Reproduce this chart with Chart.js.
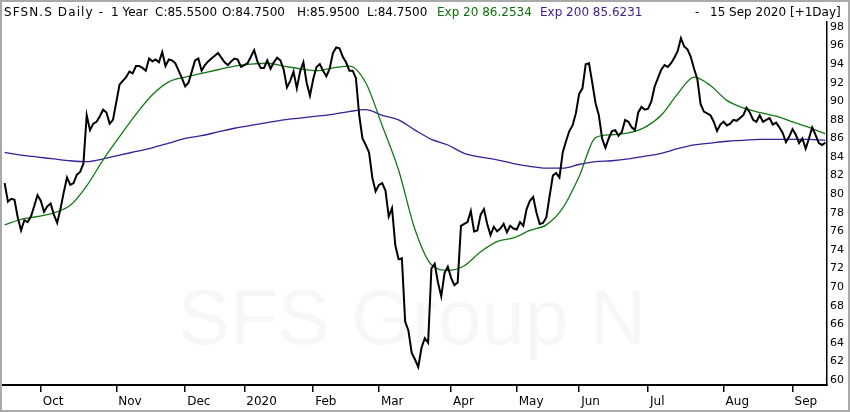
<!DOCTYPE html>
<html>
<head>
<meta charset="utf-8">
<script src="https://cdn.jsdelivr.net/npm/chart.js@4/dist/chart.umd.min.js"></script>
<style>
    html, body { margin: 0; padding: 0; background: #ffffff; }
    #wrap { position: relative; width: 850px; height: 412px; overflow: hidden; }
    #frame { position: absolute; left: 0; top: 0; width: 846px; height: 408px; border: 2px solid #a9a9a9; pointer-events: none; }
    .hd { position: absolute; top: 5px; font: 12px "DejaVu Sans", sans-serif; white-space: pre; color: #000; }
    .g { color: #0d6e0d; }
    .p { color: #3a1f8c; }
</style>
</head>
<body>
<div id="wrap">
    <canvas id="priceChart" width="850" height="412"></canvas>
    <span class="hd" style="left:4px; letter-spacing:1.1px">SFSN.S Daily -</span>
    <span class="hd" style="left:111px">1 Year</span>
    <span class="hd" style="left:155px">C:85.5500</span>
    <span class="hd" style="left:222px">O:84.7500</span>
    <span class="hd" style="left:297px">H:85.9500</span>
    <span class="hd" style="left:367px">L:84.7500</span>
    <span class="hd g" style="left:437px">Exp 20 86.2534</span>
    <span class="hd p" style="left:540px">Exp 200 85.6231</span>
    <span class="hd" style="left:695px">-</span>
    <span class="hd" style="left:710px">15 Sep 2020</span>
    <span class="hd" style="left:790px">[+1Day]</span>
    <div id="frame"></div>
</div>
<script>
// daily closes, 16 Sep 2019 .. 15 Sep 2020
const closes = [
    81.2, 79.2, 79.5, 79.4, 77.5, 76.1, 77.2, 77.0, 77.6, 78.7,
    79.9, 79.3, 78.1, 78.7, 79.0, 77.8, 76.9, 78.4, 80.2, 81.8,
    81.0, 81.2, 82.1, 82.4, 83.3, 88.5, 86.9, 87.6, 87.8, 88.4,
    89.1, 88.8, 87.6, 88.0, 89.9, 91.8, 92.2, 92.6, 93.2, 93.0,
    93.8, 93.8, 93.6, 93.3, 94.6, 94.3, 94.5, 94.2, 95.3, 93.8,
    94.5, 94.4, 94.1, 93.3, 92.5, 91.6, 92.0, 93.2, 94.4, 94.6,
    93.3, 93.9, 94.3, 94.6, 94.9, 95.2, 94.7, 94.2, 93.9, 94.3,
    94.6, 94.5, 93.7, 93.9, 94.1, 94.8, 95.5, 94.3, 93.6, 93.6,
    94.4, 93.5, 94.2, 94.7, 94.4, 93.4, 91.5, 92.2, 93.2, 91.4,
    93.2, 94.2, 92.0, 90.6, 92.4, 93.7, 94.0, 93.3, 92.7, 93.5,
    95.2, 95.8, 95.7, 94.8, 94.2, 93.3, 93.3, 92.5, 88.5, 86.0,
    85.3, 84.5, 81.8, 80.3, 81.0, 81.2, 80.4, 77.6, 78.5, 74.5,
    73.0, 73.1, 66.3, 65.3, 62.9, 62.2, 61.4, 63.5, 64.5, 64.0,
    72.0, 72.5, 70.5, 69.0, 71.5, 72.2, 71.0, 70.2, 70.5, 76.6,
    76.8, 77.0, 78.2, 76.0, 76.1, 77.8, 78.4, 76.8, 75.6, 76.5,
    76.0, 76.3, 76.8, 75.9, 76.6, 76.3, 76.2, 77.0, 76.6, 78.4,
    79.3, 79.7, 78.0, 76.8, 76.9, 77.5, 79.8, 82.0, 82.3, 81.8,
    84.5, 85.7, 86.8, 87.4, 88.7, 90.8, 91.4, 94.0, 94.1, 92.0,
    89.8, 88.5, 86.0, 85.0, 86.0, 86.8, 86.9, 86.3, 86.7, 88.0,
    87.8, 87.2, 86.9, 88.8, 89.4, 89.1, 89.2, 90.0, 91.6, 92.5,
    93.4, 93.9, 93.7, 94.1, 94.7, 95.4, 96.8, 95.9, 95.6, 94.8,
    93.5, 92.4, 89.7, 88.9, 88.7, 88.5, 87.8, 86.8, 87.5, 87.8,
    87.4, 87.6, 88.0, 87.9, 88.2, 88.5, 89.3, 88.8, 88.0, 87.8,
    88.5, 87.8, 88.0, 88.2, 87.5, 87.7, 87.2, 86.6, 85.6, 86.2,
    87.0, 86.4, 85.5, 86.0, 84.9, 86.0, 87.2, 86.4, 85.5, 85.3,
    85.55
];

// moving averages, read every 5th trading day
const emaStep = 5;
const ema20 = [
    76.7, 77.3, 77.6, 78.0, 78.8, 80.9, 83.7, 86.2, 88.6, 90.7,
    92.1, 92.6, 93.0, 93.4, 93.8, 94.0, 94.1, 93.8, 93.5, 93.3,
    93.6, 93.8, 92.0, 87.4, 82.6, 76.2, 72.4, 71.8, 72.3, 73.8,
    74.9, 75.3, 76.1, 76.7, 78.5, 81.9, 86.1, 86.4, 86.6, 87.2,
    88.5, 90.8, 92.6, 91.7, 90.1, 89.3, 88.8, 88.4, 87.8, 87.2,
    86.5
];
const ema200 = [
    84.5, 84.2, 84.0, 83.8, 83.6, 83.5, 83.8, 84.2, 84.6, 85.0,
    85.5, 86.0, 86.3, 86.7, 87.1, 87.4, 87.7, 88.0, 88.2, 88.4,
    88.6, 88.9, 89.1, 88.5, 88.0, 86.9, 85.9, 85.3, 84.4, 84.0,
    83.7, 83.3, 83.0, 82.8, 82.8, 83.2, 83.5, 83.6, 83.8, 84.1,
    84.4, 84.9, 85.3, 85.5, 85.7, 85.8, 85.9, 85.9, 85.9, 85.9,
    85.8
];

// first trading day of each month (index into closes)
const monthStarts = [11, 34, 55, 73, 94, 114, 136, 156, 175, 196, 219, 240];
const monthLabels = ['Oct', 'Nov', 'Dec', '2020', 'Feb', 'Mar', 'Apr', 'May', 'Jun', 'Jul', 'Aug', 'Sep'];
const priceTicks = [60, 62, 64, 66, 68, 70, 72, 74, 76, 78, 80, 82, 84, 86, 88, 90, 92, 94, 96, 98];

// faint name behind the lines
const watermark = {
    id: 'watermark',
    beforeDatasetsDraw(chart) {
        const ctx = chart.ctx;
        ctx.save();
        ctx.font = '78px "Liberation Sans", sans-serif';
        ctx.fillStyle = '#f7f7f7';
        ctx.textAlign = 'center';
        ctx.textBaseline = 'alphabetic';
        ctx.fillText('SFS Group N', 412, 344);
        ctx.restore();
    }
};

document.addEventListener("DOMContentLoaded", function () {
    const ctx = document.getElementById('priceChart').getContext('2d');
    new Chart(ctx, {
        type: 'line',
        data: {
            datasets: [
                {
                    label: 'SFSN.S',
                    data: closes.map((v, i) => ({ x: i, y: v })),
                    borderColor: '#000000',
                    borderWidth: 2,
                    pointRadius: 0,
                    tension: 0
                },
                {
                    label: 'Exp 20',
                    data: ema20.map((v, k) => ({ x: k * emaStep, y: v })),
                    borderColor: '#137a13',
                    borderWidth: 1.3,
                    pointRadius: 0,
                    cubicInterpolationMode: 'monotone'
                },
                {
                    label: 'Exp 200',
                    data: ema200.map((v, k) => ({ x: k * emaStep, y: v })),
                    borderColor: '#3a1f9a',
                    borderWidth: 1.3,
                    pointRadius: 0,
                    cubicInterpolationMode: 'monotone'
                }
            ]
        },
        options: {
            responsive: false,
            animation: false,
            devicePixelRatio: 1,
            layout: { padding: { left: 3, right: 3, top: 22, bottom: 3 } },
            plugins: {
                legend: { display: false },
                tooltip: { enabled: false }
            },
            scales: {
                x: {
                    type: 'linear',
                    min: -0.5,
                    max: 250.5,
                    afterBuildTicks: function (scale) {
                        scale.ticks = monthStarts.map(v => ({ value: v }));
                    },
                    afterFit: function (scale) { scale.height = 24; },
                    ticks: {
                        autoSkip: false,
                        maxRotation: 0,
                        align: 'start',
                        labelOffset: 2,
                        padding: 3,
                        color: '#000',
                        font: { family: 'DejaVu Sans', size: 12 },
                        callback: function (value) {
                            const k = monthStarts.indexOf(value);
                            return k >= 0 ? monthLabels[k] : '';
                        }
                    },
                    grid: {
                        drawOnChartArea: false,
                        drawTicks: true,
                        tickLength: 7,
                        color: '#000',
                        lineWidth: 1.5
                    },
                    border: { display: true, color: '#000', width: 2 }
                },
                y: {
                    position: 'right',
                    min: 59.46,
                    max: 98.54,
                    afterBuildTicks: function (scale) {
                        scale.ticks = priceTicks.map(v => ({ value: v }));
                    },
                    afterFit: function (scale) { scale.width = 20; },
                    ticks: {
                        padding: 3,
                        color: '#000',
                        font: { family: 'DejaVu Sans', size: 11 }
                    },
                    grid: { drawOnChartArea: false, drawTicks: false },
                    border: { display: true, color: '#000', width: 1.5 }
                }
            }
        },
        plugins: [watermark]
    });
});
</script>
</body>
</html>
